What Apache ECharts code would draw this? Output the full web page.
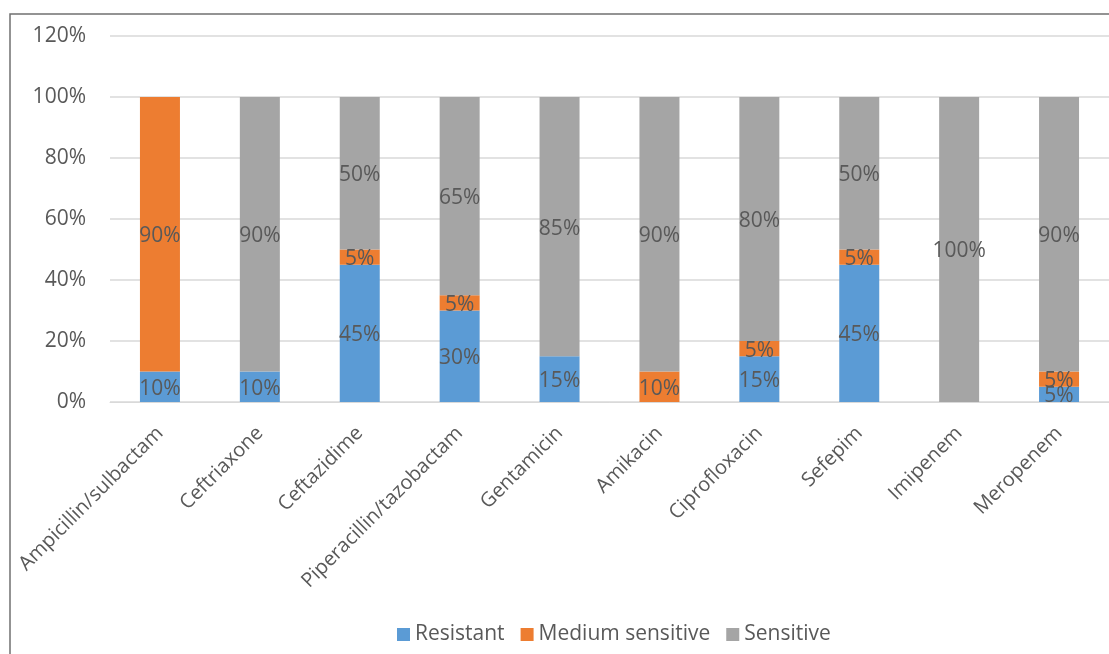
<!DOCTYPE html>
<html>
<head>
<meta charset="utf-8">
<script src="https://cdn.jsdelivr.net/npm/echarts@6/dist/echarts.min.js"></script>
<style>
  html, body { margin: 0; padding: 0; background: #fff; }
  #chart { width: 1109px; height: 654px; }
</style>
</head>
<body>
<div id="chart"></div>
<script>
// Antibiotic susceptibility, percent of isolates per drug
const categories = ['Ampicillin/sulbactam', 'Ceftriaxone', 'Ceftazidime', 'Piperacillin/tazobactam',
  'Gentamicin', 'Amikacin', 'Ciprofloxacin', 'Sefepim', 'Imipenem', 'Meropenem'];
const resistant = [10, 10, 45, 30, 15, 0, 15, 45, 0, 5];
const mediumSensitive = [90, 0, 5, 5, 0, 10, 5, 5, 0, 5];
const sensitive = [0, 90, 50, 65, 85, 90, 80, 50, 100, 90];
const seriesNames = ['Resistant', 'Medium sensitive', 'Sensitive'];
const yTicks = { min: 0, max: 120, step: 20 };

const FONT = '"Open Sans", "Noto Sans", sans-serif';
const TEXT = '#595959';
const SIZE = 21;
const colors = ['#5B9BD5', '#ED7D31', '#A5A5A5'];

const chart = echarts.init(document.getElementById('chart'), null, { renderer: 'canvas' });

function barSeries(name, data, color) {
  return {
    name: name,
    type: 'bar',
    stack: 'total',
    data: data,
    barWidth: 40,
    itemStyle: { color: color },
    label: {
      show: true,
      position: 'inside',
      offset: [0, 2],
      color: TEXT,
      fontFamily: FONT,
      fontSize: SIZE,
      formatter: p => (p.value > 0 ? p.value + '%' : '')
    }
  };
}

chart.setOption({
  animation: false,
  backgroundColor: '#fff',
  color: colors,
  graphic: [{
    type: 'rect',
    shape: { x: 10, y: 14, width: 1200, height: 800 },
    style: { fill: 'none', stroke: '#707070', lineWidth: 1.5 },
    silent: true
  }],
  grid: { left: 110, right: -1, top: 36, bottom: 252, containLabel: false },
  legend: {
    bottom: 4,
    left: 392,
    itemWidth: 13,
    itemHeight: 13,
    itemGap: 16,
    icon: 'rect',
    textStyle: { color: TEXT, fontFamily: FONT, fontSize: SIZE },
    data: seriesNames
  },
  xAxis: {
    type: 'category',
    data: categories,
    axisLine: { lineStyle: { color: '#d9d9d9' } },
    axisTick: { show: false },
    axisLabel: {
      rotate: 45,
      interval: 0,
      color: TEXT,
      fontFamily: FONT,
      fontSize: 20,
      margin: 28
    }
  },
  yAxis: {
    type: 'value',
    min: yTicks.min,
    max: yTicks.max,
    interval: yTicks.step,
    axisLine: { show: false },
    axisTick: { show: false },
    splitLine: { lineStyle: { color: '#d9d9d9', width: 1.5 } },
    axisLabel: {
      formatter: '{value}%',
      color: TEXT,
      fontFamily: FONT,
      fontSize: SIZE,
      margin: 24
    }
  },
  series: [
    barSeries(seriesNames[0], resistant, colors[0]),
    barSeries(seriesNames[1], mediumSensitive, colors[1]),
    barSeries(seriesNames[2], sensitive, colors[2])
  ]
});
</script>
</body>
</html>
